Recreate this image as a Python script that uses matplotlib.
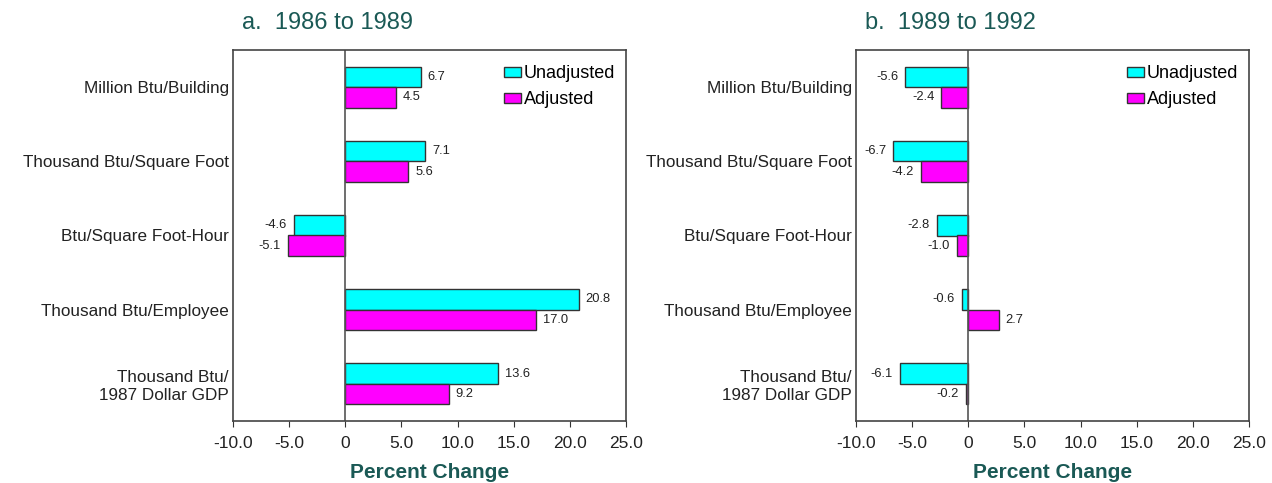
import matplotlib.pyplot as plt
import numpy as np

plt.rcParams['font.family'] = ['Liberation Sans', 'DejaVu Sans']

categorias = ['Million Btu/Building', 'Thousand Btu/Square Foot', 'Btu/Square Foot-Hour',
              'Thousand Btu/Employee', 'Thousand Btu/\n1987 Dollar GDP']
titulos = ['a.  1986 to 1989', 'b.  1989 to 1992']
sinAjustar_a = [6.7, 7.1, -4.6, 20.8, 13.6]
ajustado_a = [4.5, 5.6, -5.1, 17.0, 9.2]
sinAjustar_b = [-5.6, -6.7, -2.8, -0.6, -6.1]
ajustado_b = [-2.4, -4.2, -1.0, 2.7, -0.2]
ticksX = [-10, -5, 0, 5, 10, 15, 20, 25]
etiquetasX = ['-10.0', '-5.0', '0', '5.0', '10.0', '15.0', '20.0', '25.0']

verde = '#1a5955'
gris = '#555555'

W, H = 1272, 483
fig = plt.figure(figsize=(W / 100, H / 100), dpi=100)
ejes = [fig.add_axes([233 / W, (H - 421) / H, 393 / W, 371 / H]),
        fig.add_axes([856 / W, (H - 421) / H, 393 / W, 371 / H])]
datos = [(sinAjustar_a, ajustado_a), (sinAjustar_b, ajustado_b)]

y = np.arange(len(categorias))
alto = 0.276
for ax, titulo, (sa, aj) in zip(ejes, titulos, datos):
    b1 = ax.barh(y - alto / 2, sa, alto, color='#00ffff', edgecolor='#333333',
                 linewidth=1, label='Unadjusted')
    b2 = ax.barh(y + alto / 2, aj, alto, color='#ff00ff', edgecolor='#333333',
                 linewidth=1, label='Adjusted')
    for barras, vals in ((b1, sa), (b2, aj)):
        for barra, v in zip(barras, vals):
            yc = barra.get_y() + barra.get_height() / 2
            if v >= 0:
                ax.annotate('%.1f' % v, (v, yc), xytext=(5, 0), textcoords='offset points',
                            ha='left', va='center', fontsize=9.3, color='#222222')
            else:
                ax.annotate('%.1f' % v, (v, yc), xytext=(-5, 0), textcoords='offset points',
                            ha='right', va='center', fontsize=9.3, color='#222222')
    ax.axvline(0, color=gris, linewidth=1.2)
    ax.set_xlim(-10, 25)
    ax.set_ylim(4.5, -0.5)
    ax.set_xticks(ticksX)
    ax.set_xticklabels(etiquetasX, fontsize=12.5, color='#222222')
    ax.set_yticks(y)
    ax.set_yticklabels(categorias, fontsize=12.3, color='#222222')
    ax.tick_params(axis='y', length=0, pad=3)
    ax.tick_params(axis='x', length=4.5, color='#333333', pad=6)
    for s in ax.spines.values():
        s.set_color('#444444')
        s.set_linewidth(1.2)
    ax.set_xlabel('Percent Change', fontsize=15, fontweight='bold', color=verde, labelpad=9)
    ax.set_title(titulo, fontsize=17, color=verde, loc='left', pad=15, x=0.023)
    ax.legend(loc='upper right', bbox_to_anchor=(1.0, 0.988), frameon=False, fontsize=13,
              handlelength=0.9, handleheight=0.5, handletextpad=0.17, labelspacing=0.5,
              borderaxespad=0.3, borderpad=0.3)

plt.savefig('out.png', dpi=100)
